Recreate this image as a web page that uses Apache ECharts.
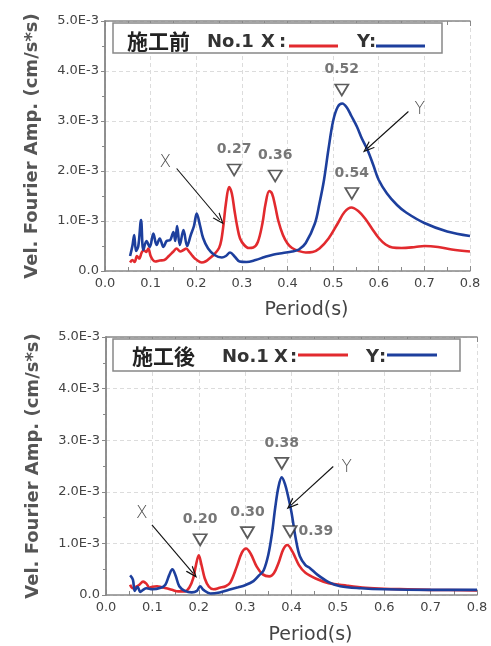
<!DOCTYPE html>
<html><head><meta charset="utf-8">
<script src="https://cdn.jsdelivr.net/npm/echarts@6/dist/echarts.min.js"></script>
<style>html,body{margin:0;padding:0;background:#fff}#c{width:491px;height:646px}</style>
</head><body><div id="c"></div><script>
// Amplitudes in units of 1E-3 cm/s*s
const xTickLabels = ['0.0','0.1','0.2','0.3','0.4','0.5','0.6','0.7','0.8'];
const yTickLabels = ['0.0','1.0E-3','2.0E-3','3.0E-3','4.0E-3','5.0E-3'];

// 施工前 (before)
const beforeX = [[0.055,0.17],[0.06,0.22],[0.065,0.18],[0.07,0.3],[0.075,0.25],[0.08,0.36],[0.085,0.42],[0.09,0.38],[0.095,0.45],[0.1,0.3],[0.105,0.22],[0.11,0.19],[0.12,0.21],[0.13,0.22],[0.14,0.3],[0.15,0.39],[0.157,0.45],[0.165,0.39],[0.172,0.42],[0.178,0.45],[0.185,0.38],[0.193,0.29],[0.2,0.23],[0.212,0.17],[0.22,0.19],[0.23,0.26],[0.24,0.34],[0.25,0.46],[0.255,0.62],[0.26,0.95],[0.265,1.35],[0.272,1.68],[0.278,1.55],[0.284,1.2],[0.29,0.88],[0.296,0.65],[0.305,0.52],[0.315,0.46],[0.325,0.47],[0.335,0.58],[0.345,0.95],[0.352,1.35],[0.36,1.6],[0.366,1.55],[0.373,1.3],[0.38,1.0],[0.39,0.72],[0.4,0.55],[0.41,0.46],[0.425,0.4],[0.44,0.37],[0.455,0.38],[0.47,0.45],[0.49,0.65],[0.51,0.95],[0.525,1.18],[0.54,1.27],[0.555,1.2],[0.57,1.05],[0.585,0.85],[0.6,0.66],[0.615,0.53],[0.63,0.47],[0.65,0.46],[0.68,0.48],[0.7,0.5],[0.73,0.48],[0.76,0.43],[0.8,0.39]];
const beforeY = [[0.055,0.3],[0.06,0.5],[0.064,0.72],[0.068,0.4],[0.073,0.5],[0.079,1.02],[0.084,0.42],[0.091,0.6],[0.098,0.48],[0.106,0.75],[0.113,0.52],[0.12,0.65],[0.128,0.48],[0.135,0.6],[0.143,0.62],[0.15,0.78],[0.154,0.6],[0.158,0.9],[0.164,0.52],[0.172,0.82],[0.18,0.5],[0.188,0.72],[0.195,0.9],[0.201,1.15],[0.208,0.92],[0.215,0.66],[0.226,0.45],[0.24,0.32],[0.256,0.27],[0.265,0.3],[0.274,0.37],[0.285,0.28],[0.295,0.19],[0.31,0.18],[0.33,0.22],[0.35,0.28],[0.37,0.33],[0.39,0.36],[0.41,0.39],[0.425,0.43],[0.44,0.56],[0.46,0.95],[0.47,1.35],[0.48,1.82],[0.49,2.45],[0.5,3.0],[0.51,3.28],[0.52,3.35],[0.53,3.27],[0.54,3.1],[0.552,2.89],[0.563,2.65],[0.575,2.43],[0.588,2.12],[0.6,1.82],[0.618,1.55],[0.64,1.32],[0.66,1.17],[0.7,0.96],[0.75,0.79],[0.8,0.7]];
const beforePeakNames = ['0.27','0.36','0.52','0.54'];
const beforePeakPos = [[0.283,2.02],[0.373,1.9],[0.519,3.62],[0.541,1.55]];
const beforeTagNames = ['X','Y'];
const beforeTagPos = [[0.132,2.16],[0.69,3.22]];
const beforeArrows = [[[0.157,2.05],[0.252,1.02]],[[0.665,3.19],[0.575,2.45]]];

// 施工後 (after)
const afterX = [[0.052,0.2],[0.058,0.13],[0.065,0.16],[0.072,0.2],[0.08,0.26],[0.087,0.22],[0.094,0.14],[0.1,0.16],[0.11,0.17],[0.12,0.15],[0.13,0.13],[0.142,0.1],[0.156,0.07],[0.17,0.07],[0.18,0.15],[0.188,0.32],[0.194,0.58],[0.2,0.77],[0.206,0.58],[0.213,0.32],[0.222,0.16],[0.232,0.11],[0.245,0.14],[0.258,0.17],[0.268,0.24],[0.282,0.55],[0.293,0.82],[0.302,0.9],[0.312,0.8],[0.325,0.55],[0.338,0.4],[0.352,0.36],[0.362,0.42],[0.372,0.62],[0.382,0.88],[0.391,0.97],[0.402,0.84],[0.416,0.58],[0.43,0.43],[0.452,0.32],[0.48,0.23],[0.52,0.18],[0.56,0.14],[0.6,0.12],[0.65,0.11],[0.7,0.1],[0.8,0.09]];
const afterY = [[0.052,0.38],[0.058,0.3],[0.062,0.08],[0.068,0.16],[0.074,0.06],[0.08,0.1],[0.087,0.13],[0.1,0.11],[0.118,0.14],[0.128,0.2],[0.136,0.38],[0.143,0.5],[0.15,0.38],[0.158,0.17],[0.17,0.08],[0.185,0.05],[0.196,0.08],[0.203,0.17],[0.21,0.1],[0.225,0.03],[0.245,0.05],[0.265,0.1],[0.285,0.15],[0.3,0.19],[0.318,0.27],[0.33,0.38],[0.34,0.48],[0.35,0.78],[0.358,1.2],[0.365,1.7],[0.372,2.1],[0.379,2.28],[0.386,2.15],[0.393,1.9],[0.4,1.6],[0.409,1.1],[0.418,0.75],[0.43,0.58],[0.44,0.52],[0.455,0.4],[0.48,0.25],[0.505,0.17],[0.55,0.13],[0.6,0.11],[0.7,0.1],[0.8,0.1]];
const afterPeakNames = ['0.20','0.30','0.38','0.39'];
const afterPeakPos = [[0.203,1.07],[0.305,1.21],[0.379,2.55],[0.397,1.23]];
const afterTagNames = ['X','Y'];
const afterTagPos = [[0.077,1.58],[0.519,2.46]];
const afterArrows = [[[0.099,1.36],[0.188,0.42]],[[0.49,2.49],[0.399,1.74]]];

const RED = '#e22a2e', BLUE = '#1d3f9d';
const NUM = 'DejaVu Sans';
const chart = echarts.init(document.getElementById('c'), null, {renderer:'canvas'});

function xAxes(gi, nameGap) {
  const base = {type:'value', gridIndex:gi, min:0, max:0.8, interval:0.1};
  return [
    Object.assign({}, base, {position:'bottom',
      name:'Period(s)', nameLocation:'middle', nameGap:nameGap,
      nameTextStyle:{fontFamily:NUM, fontSize:19, color:'#444', padding:[0,0,0,38]},
      axisLine:{lineStyle:{color:'#888', width:1.5}},
      axisTick:{inside:true, length:5, lineStyle:{color:'#888'}},
      minorTick:{show:true, splitNumber:2, length:4, lineStyle:{color:'#888'}},
      axisLabel:{fontFamily:NUM, fontSize:13, color:'#444', margin:6,
        formatter:(v)=>xTickLabels[Math.round(v*10)]},
      splitLine:{show:true, lineStyle:{color:'#dcdcdc', type:[4,3]}}}),
    Object.assign({}, base, {position:'top',
      axisLine:{onZero:false, lineStyle:{color:'#888', width:1.5}},
      axisTick:{inside:true, length:5, lineStyle:{color:'#888'}},
      minorTick:{show:true, splitNumber:2, length:4, lineStyle:{color:'#888'}},
      axisLabel:{show:false}, splitLine:{show:false}})
  ];
}
function yAxes(gi) {
  const base = {type:'value', gridIndex:gi, min:0, max:5, interval:1};
  return [
    Object.assign({}, base, {position:'left',
      name:'Vel. Fourier Amp. (cm/s*s)', nameLocation:'middle', nameGap:64,
      nameTextStyle:{fontFamily:NUM, fontSize:18, fontWeight:'bold', color:'#555'},
      axisLine:{show:true, lineStyle:{color:'#888', width:1.5}},
      axisTick:{show:true, inside:false, length:4, lineStyle:{color:'#888'}},
      minorTick:{show:true, splitNumber:2, length:3, lineStyle:{color:'#888'}},
      axisLabel:{fontFamily:NUM, fontSize:13, color:'#444', margin:6,
        formatter:(v)=>yTickLabels[Math.round(v)]},
      splitLine:{show:true, lineStyle:{color:'#dcdcdc', type:[4,3]}}}),
    Object.assign({}, base, {position:'right',
      axisLine:{show:true, lineStyle:{color:'#888', width:1.5}},
      axisTick:{show:true, inside:true, length:4, lineStyle:{color:'#888'}},
      minorTick:{show:true, splitNumber:2, length:3, lineStyle:{color:'#888'}},
      axisLabel:{show:false}, splitLine:{show:false}})
  ];
}

function curve(data, color, xi, yi) {
  return {type:'line', data:data, xAxisIndex:xi, yAxisIndex:yi, smooth:0.35,
    symbol:'none', lineStyle:{color:color, width:2.6}, z:3, silent:true};
}
function peaks(names, pos, xi, yi) {
  return {type:'scatter', xAxisIndex:xi, yAxisIndex:yi, z:5, silent:true,
    symbol:'triangle', symbolRotate:180, symbolSize:[13,11],
    itemStyle:{color:'#fff', borderColor:'#333', borderWidth:1.8},
    label:{show:true, position:'top', distance:7, fontFamily:NUM, fontSize:14,
      fontWeight:'bold', color:'#555', formatter:(p)=>p.name},
    data: names.map((n,i)=>{
      const d = {name:n, value:pos[i]};
      if (n==='0.39') d.label = {position:'right', distance:1};
      return d;
    })};
}
function tags(names, pos, arrows, xi, yi) {
  return {type:'scatter', xAxisIndex:xi, yAxisIndex:yi, z:6, silent:true,
    symbol:'circle', symbolSize:1, itemStyle:{color:'rgba(0,0,0,0)'},
    label:{show:true, position:'inside', fontFamily:'DejaVu Sans ExtraLight, DejaVu Sans',
      fontWeight:200, fontSize:17, color:'#222', formatter:(p)=>p.name},
    data: names.map((n,i)=>({name:n, value:pos[i]})),
    markLine:{silent:true, animation:false,
      symbol:['none','path://M0,10L5,0L10,10L8.6,10L5,2.8L1.4,10Z'], symbolSize:[9,12],
      label:{show:false}, lineStyle:{color:'#111', width:1.1, type:'solid'},
      data: arrows.map(a=>[{coord:a[0]},{coord:a[1]}])}};
}

function legendBox(box, items) {
  const els = [{type:'rect', shape:{x:box[0], y:box[1], width:box[2], height:box[3]},
    style:{fill:'#fff', stroke:'#888', lineWidth:1.5}, z:10}];
  items.forEach(it => {
    if (it.line) els.push({type:'line', shape:{x1:it.x, y1:it.y, x2:it.x2, y2:it.y},
      style:{stroke:it.line, lineWidth:3.2}, z:11});
    else els.push({type:'text', x:it.x, y:it.y, z:11,
      style:{text:it.t, font: it.font, fill:it.c||'#222', textVerticalAlign:'middle', textAlign:'left'}});
  });
  return els;
}
const cjkFont = 'bold 21px "Noto Sans CJK JP"';
const latFont = 'bold 18px "DejaVu Sans"';

const option = {
  animation:false,
  backgroundColor:'#fff',
  grid:[{left:105, top:21, width:365, height:250},
        {left:106, top:337, width:371, height:258}],
  xAxis:[...xAxes(0,30), ...xAxes(1,31)],
  yAxis:[...yAxes(0), ...yAxes(1)],
  series:[
    curve(beforeX, RED, 0, 0), curve(beforeY, BLUE, 0, 0),
    peaks(beforePeakNames, beforePeakPos, 0, 0),
    tags(beforeTagNames, beforeTagPos, beforeArrows, 0, 0),
    curve(afterX, RED, 2, 2), curve(afterY, BLUE, 2, 2),
    peaks(afterPeakNames, afterPeakPos, 2, 2),
    tags(afterTagNames, afterTagPos, afterArrows, 2, 2)
  ],
  graphic: [
    ...legendBox([113,23,329,30], [
      {t:'施工前', x:127, y:41, font:cjkFont},
      {t:'No.1', x:207, y:42, font:latFont, c:'#333'},
      {t:'X', x:261, y:42, font:latFont, c:'#333'},
      {t:':', x:279, y:42, font:latFont, c:'#333'},
      {line:RED, x:289, x2:338, y:46},
      {t:'Y', x:357, y:42, font:latFont, c:'#333'},
      {t:':', x:369, y:42, font:latFont, c:'#333'},
      {line:BLUE, x:376, x2:425, y:46}
    ]),
    ...legendBox([113,339,347,32], [
      {t:'施工後', x:132, y:356, font:cjkFont},
      {t:'No.1', x:222, y:357, font:latFont, c:'#333'},
      {t:'X', x:274, y:357, font:latFont, c:'#333'},
      {t:':', x:290, y:357, font:latFont, c:'#333'},
      {line:RED, x:298, x2:348, y:355},
      {t:'Y', x:366, y:357, font:latFont, c:'#333'},
      {t:':', x:379, y:357, font:latFont, c:'#333'},
      {line:BLUE, x:387, x2:437, y:355}
    ])
  ]
};
chart.setOption(option);
</script></body></html>
